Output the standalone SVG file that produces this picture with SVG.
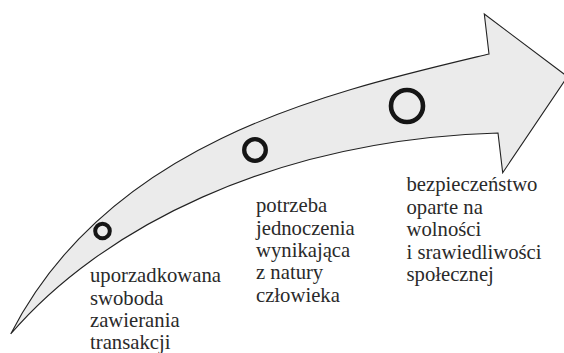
<svg xmlns="http://www.w3.org/2000/svg" width="564" height="353" viewBox="0 0 564 353">
<style>
.arrow{fill:#ebebeb;stroke:#222;stroke-width:1.1;stroke-linejoin:miter}
.ring{fill:none;stroke:#151515}
.lbl{font-family:"Liberation Serif","Times New Roman",serif;font-size:20.7px;fill:#2a2a2a}
</style>
<rect width="564" height="353" fill="#ffffff"/>
<g id="connectors">
<path class="arrow" d="M10.7,334 C110,140 330,92 489,54 L484.3,14 L567.5,76.6 L502.7,172.7 L498,133 C270,140 100,230 10.7,334 Z"/>
</g>
<g id="node1">
<circle class="ring" cx="102.5" cy="231" r="7.3" stroke-width="4"/>
<text class="lbl" x="90" y="282">uporzadkowana</text>
<text class="lbl" x="90" y="304.5">swoboda</text>
<text class="lbl" x="90" y="327">zawierania</text>
<text class="lbl" x="90" y="348.5">transakcji</text>
</g>
<g id="node2">
<circle class="ring" cx="255" cy="150" r="10.8" stroke-width="4.3"/>
<text class="lbl" x="256" y="212.3">potrzeba</text>
<text class="lbl" x="256" y="234.7">jednoczenia</text>
<text class="lbl" x="256" y="257">wynikająca</text>
<text class="lbl" x="256" y="279.3">z natury</text>
<text class="lbl" x="256" y="301.6">człowieka</text>
</g>
<g id="node3">
<circle class="ring" cx="407" cy="106" r="16" stroke-width="4.6"/>
<text class="lbl" x="406.5" y="191">bezpieczeństwo</text>
<text class="lbl" x="406.5" y="213.6">oparte na</text>
<text class="lbl" x="406.5" y="236.2">wolności</text>
<text class="lbl" x="406.5" y="258.8">i srawiedliwości</text>
<text class="lbl" x="406.5" y="281.4">społecznej</text>
</g>
</svg>
